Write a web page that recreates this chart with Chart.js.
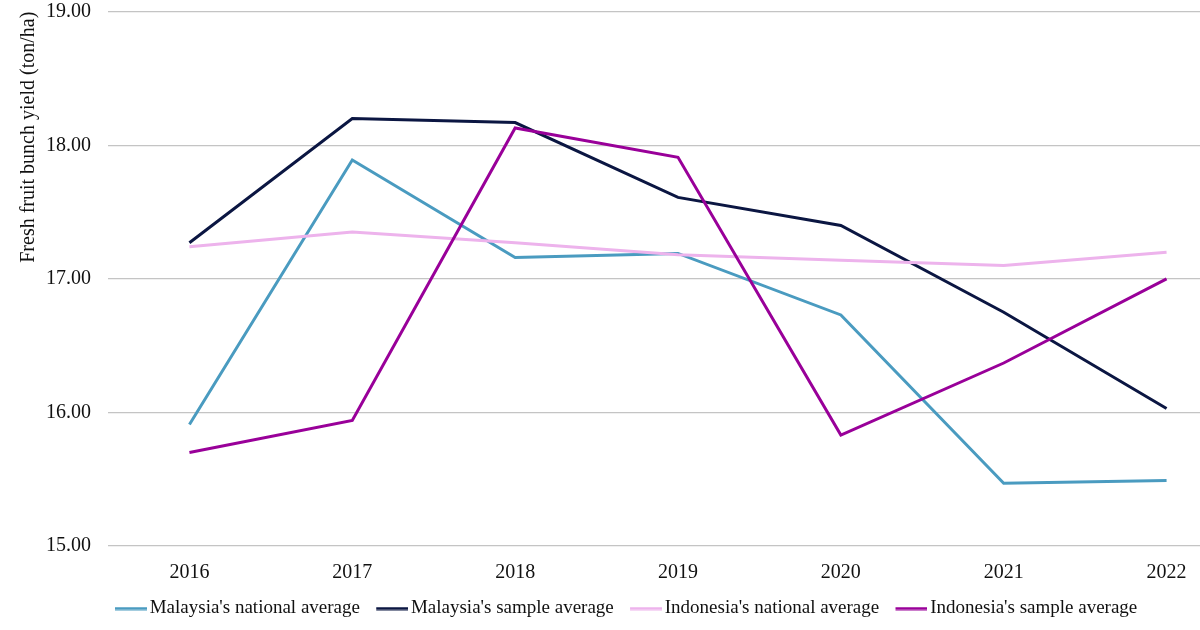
<!DOCTYPE html>
<html>
<head>
<meta charset="utf-8">
<script src="https://cdn.jsdelivr.net/npm/chart.js@4.4.1/dist/chart.umd.min.js"></script>
<style>
  html, body { margin: 0; padding: 0; background: #ffffff; overflow: hidden; width: 1200px; height: 630px; }
  #wrap { position: relative; width: 1248px; height: 630px; }
</style>
</head>
<body>
<div id="wrap"><canvas id="chart" width="1248" height="630"></canvas></div>
<script>
// ---- Data ----
const years = ['2016', '2017', '2018', '2019', '2020', '2021', '2022'];
const malaysiaNational = [15.91, 17.89, 17.16, 17.19, 16.73, 15.47, 15.49];
const malaysiaSample = [17.27, 18.20, 18.17, 17.61, 17.40, 16.75, 16.03];
const indonesiaNational = [17.24, 17.35, 17.27, 17.18, 17.14, 17.10, 17.20];
const indonesiaSample = [15.70, 15.94, 18.13, 17.91, 15.83, 16.37, 17.00];
const seriesNames = ["Malaysia's national average", "Malaysia's sample average", "Indonesia's national average", "Indonesia's sample average"];
const yTickValues = [15, 16, 17, 18, 19];
const yTitle = 'Fresh fruit bunch yield (ton/ha)';

// ---- Styling ----
const FONT = "'Liberation Serif', 'Times New Roman', serif";
const TEXT = '#111111';
const lineColors = ['#4A9BC0', '#0B1642', '#EDB3EC', '#990099'];

// legend swatch: a short line, placed just left of the label text
function makeSwatch(color) {
  const c = document.createElement('canvas');
  c.width = 51; c.height = 4;
  const g = c.getContext('2d');
  g.fillStyle = color;
  g.fillRect(19, 0.5, 32, 3);
  return c;
}
const swatches = lineColors.map(makeSwatch);

const seriesValues = [malaysiaNational, malaysiaSample, indonesiaNational, indonesiaSample];

const datasets = seriesValues.map((vals, i) => ({
  label: seriesNames[i],
  data: vals,
  borderColor: lineColors[i],
  backgroundColor: lineColors[i],
  borderWidth: 3,
  pointRadius: 0,
  pointHoverRadius: 0,
  tension: 0,
  fill: false,
  order: seriesValues.length - 1 - i
}));

new Chart(document.getElementById('chart'), {
  type: 'line',
  data: { labels: years, datasets },
  options: {
    responsive: false,
    animation: false,
    layout: { padding: { left: -8, right: 0, top: 11.7, bottom: 2 } },
    plugins: {
      tooltip: { enabled: false },
      legend: {
        position: 'bottom',
        align: 'center',
        labels: {
          usePointStyle: true,
          pointStyleWidth: 37.5,
          padding: 4,
          color: TEXT,
          font: { family: FONT, size: 19 },
          generateLabels(chart) {
            const items = Chart.defaults.plugins.legend.labels.generateLabels(chart);
            items.sort((a, b) => a.datasetIndex - b.datasetIndex);
            items.forEach(it => { it.pointStyle = swatches[it.datasetIndex]; });
            return items;
          }
        }
      }
    },
    scales: {
      x: {
        type: 'category',
        offset: true,
        grid: { display: false, drawTicks: false },
        border: { display: false },
        ticks: {
          color: TEXT,
          font: { family: FONT, size: 20 },
          padding: 15,
          maxRotation: 0,
          autoSkip: false
        },
        afterFit(scale) { scale.height = 49; }
      },
      y: {
        min: yTickValues[0],
        max: yTickValues[yTickValues.length - 1],
        grid: { color: '#c4c4c4', lineWidth: 1.2, drawTicks: false },
        border: { display: false },
        ticks: {
          color: TEXT,
          font: { family: FONT, size: 20 },
          padding: 17,
          callback: v => Number(v).toFixed(2)
        },
        afterBuildTicks(scale) { scale.ticks = yTickValues.map(v => ({ value: v })); },
        title: {
          display: true,
          text: yTitle,
          align: 'end',
          color: TEXT,
          font: { family: FONT, size: 20 },
          padding: { top: 25, bottom: 0 }
        },
        afterFit(scale) {
          scale.width = 116;
          scale.paddingTop = 0;
          scale.paddingBottom = 0;
        }
      }
    }
  }
});
</script>
</body>
</html>
